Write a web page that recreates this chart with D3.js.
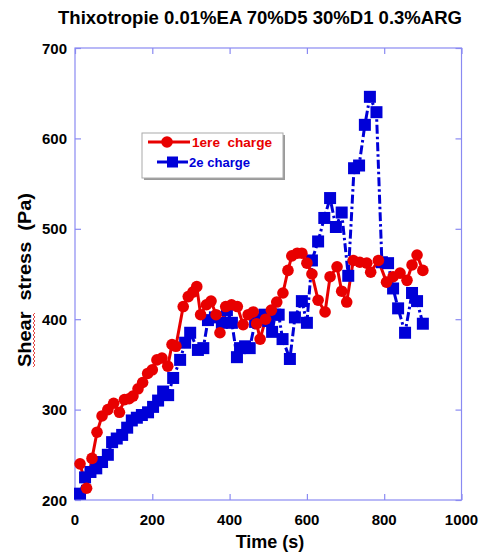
<!DOCTYPE html>
<html><head><meta charset="utf-8">
<script src="https://cdn.jsdelivr.net/npm/d3@7"></script>
<style>body{margin:0;background:#fff}svg{display:block}</style>
</head><body>
<svg id="c" width="486" height="558"></svg>
<script>
const title = "Thixotropie 0.01%EA 70%D5 30%D1 0.3%ARG";
const xLabel = "Time (s)";
const yLabel = "Shear  stress  (Pa)";
const seriesNames = ["1ere  charge", "2e charge"];
const xTicks = [0, 200, 400, 600, 800, 1000];
const yTicks = [200, 300, 400, 500, 600, 700];

const t1 = [13,30,44,57,70,85,100,115,128,140,150,163,175,188,200,212,225,240,251,261,280,293,305,315,325,340,352,365,375,390,405,420,435,448,461,470,479,493,508,522,538,551,561,575,587,600,613,629,647,660,678,690,703,720,737,755,765,785,806,823,841,859,872,885,900];
const v1 = [240,213,246,275,293,300,307,297,311,312,315,323,330,340,344,355,357,348,372,370,414,425,430,436,405,416,420,405,385,414,416,414,394,405,408,395,378,400,410,419,429,454,470,473,473,462,450,421,408,447,458,431,419,465,463,462,452,465,441,447,451,443,460,471,454];

const t2 = [13,26,40,55,70,85,96,108,122,135,147,160,173,189,202,215,228,241,254,272,285,298,318,332,344,362,380,393,406,419,427,440,452,466,480,490,500,510,518,527,537,556,569,587,600,613,629,645,660,675,690,707,722,735,750,763,780,794,810,823,836,854,872,885,900];
const v2 = [207,225,231,235,242,250,264,268,272,280,288,291,294,297,303,310,320,316,335,355,374,385,366,368,399,402,396,410,396,358,368,370,368,397,400,405,398,386,405,405,378,356,402,420,396,465,486,512,534,502,518,448,567,570,615,646,629,463,462,434,412,385,429,420,395];

const svg = d3.select("#c");
const x = d3.scaleLinear().domain([0, 1000]).range([75, 461.5]);
const y = d3.scaleLinear().domain([200, 700]).range([500, 48]);
const axisCol = "#8a8af2";
const font = "'Liberation Sans', Arial, sans-serif";

svg.append("rect").attr("x", x(0)).attr("y", y(700)).attr("width", x(1000)-x(0)).attr("height", y(200)-y(700))
  .attr("fill", "none").attr("stroke", axisCol).attr("stroke-width", 1.2);

const g = svg.append("g");
const styleTicks = s => { s.select(".domain").remove(); s.selectAll("line").attr("stroke", axisCol).attr("stroke-width", 1.2); };
g.append("g").attr("transform", `translate(0,${y(200)})`)
  .call(d3.axisTop(x).tickValues(xTicks).tickSize(6).tickFormat("")).call(styleTicks);
g.append("g").attr("transform", `translate(${x(0)},0)`)
  .call(d3.axisRight(y).tickValues(yTicks).tickSize(6).tickFormat("")).call(styleTicks);
g.append("g").attr("transform", `translate(${x(1000)},0)`)
  .call(d3.axisLeft(y).tickValues(yTicks).tickSize(6).tickFormat("")).call(styleTicks);
g.append("g").attr("transform", `translate(0,${y(700)})`)
  .call(d3.axisBottom(x).tickValues(xTicks).tickSize(6).tickFormat("")).call(styleTicks);

svg.append("g").selectAll("text").data(xTicks).join("text")
  .attr("x", d => x(d)).attr("y", 525).attr("text-anchor", "middle")
  .attr("font-family", font).attr("font-weight", "bold").attr("font-size", 15).text(d => d);
svg.append("g").selectAll("text").data(yTicks).join("text")
  .attr("x", 67).attr("y", d => y(d) + 5.5).attr("text-anchor", "end")
  .attr("font-family", font).attr("font-weight", "bold").attr("font-size", 15).text(d => d);

svg.append("text").attr("x", 260).attr("y", 24).attr("text-anchor", "middle")
  .attr("font-family", font).attr("font-weight", "bold").attr("font-size", 19)
  .attr("textLength", 404).attr("lengthAdjust", "spacingAndGlyphs").text(title);
svg.append("text").attr("x", 270).attr("y", 548).attr("text-anchor", "middle")
  .attr("font-family", font).attr("font-weight", "bold").attr("font-size", 18).text(xLabel);
svg.append("text").attr("transform", "translate(31,280) rotate(-90)").attr("text-anchor", "middle")
  .attr("font-family", font).attr("font-weight", "bold").attr("font-size", 18).attr("xml:space","preserve")
  .attr("textLength", 174).attr("lengthAdjust", "spacingAndGlyphs")
  .text(yLabel);
{
  let p = "M33,367";
  for (let yy = 367, i = 0; yy > 313; yy -= 2, i++) p += ` L${i % 2 ? 33 : 35},${yy - 2}`;
  svg.append("path").attr("d", p).attr("fill", "none").attr("stroke", "#e03030").attr("stroke-width", 0.9);
}

const d1 = t1.map((t, i) => [t, v1[i]]);
const d2 = t2.map((t, i) => [t, v2[i]]);
const line = d3.line().x(d => x(d[0])).y(d => y(d[1]));

svg.append("path").datum(d2).attr("d", line).attr("fill", "none").attr("stroke", "#0000d8")
  .attr("stroke-width", 3).attr("stroke-dasharray", "9,3,2.5,3");
svg.append("path").datum(d1).attr("d", line).attr("fill", "none").attr("stroke", "#e80000")
  .attr("stroke-width", 3);
svg.append("g").selectAll("rect").data(d2).join("rect")
  .attr("x", d => x(d[0]) - 6).attr("y", d => y(d[1]) - 6).attr("width", 12).attr("height", 12)
  .attr("fill", "#0000d8");
svg.append("g").selectAll("circle").data(d1).join("circle")
  .attr("cx", d => x(d[0])).attr("cy", d => y(d[1])).attr("r", 5.8).attr("fill", "#e80000");

const lg = svg.append("g");
lg.append("rect").attr("x", 144).attr("y", 135).attr("width", 141).attr("height", 45).attr("fill", "#9a9a9a");
lg.append("rect").attr("x", 142).attr("y", 133).attr("width", 141).attr("height", 45).attr("fill", "#fff")
  .attr("stroke", "#aaa").attr("stroke-width", 1);
lg.append("line").attr("x1", 148).attr("x2", 190).attr("y1", 142).attr("y2", 142).attr("stroke", "#e80000").attr("stroke-width", 3);
lg.append("circle").attr("cx", 167).attr("cy", 142).attr("r", 5.8).attr("fill", "#e80000");
lg.append("line").attr("x1", 157).attr("x2", 188).attr("y1", 162).attr("y2", 162).attr("stroke", "#0000d8").attr("stroke-width", 3);
lg.append("rect").attr("x", 167).attr("y", 156.5).attr("width", 11).attr("height", 11).attr("fill", "#0000d8");
lg.append("text").attr("x", 192).attr("y", 147).attr("font-family", font).attr("font-size", 13).attr("font-weight", "bold")
  .attr("fill", "#e80000").attr("xml:space","preserve").attr("textLength", 80).attr("lengthAdjust", "spacingAndGlyphs").text(seriesNames[0]);
lg.append("text").attr("x", 189).attr("y", 167).attr("font-family", font).attr("font-size", 13).attr("font-weight", "bold")
  .attr("fill", "#0000d8").attr("textLength", 61).attr("lengthAdjust", "spacingAndGlyphs").text(seriesNames[1]);
</script>
</body></html>
